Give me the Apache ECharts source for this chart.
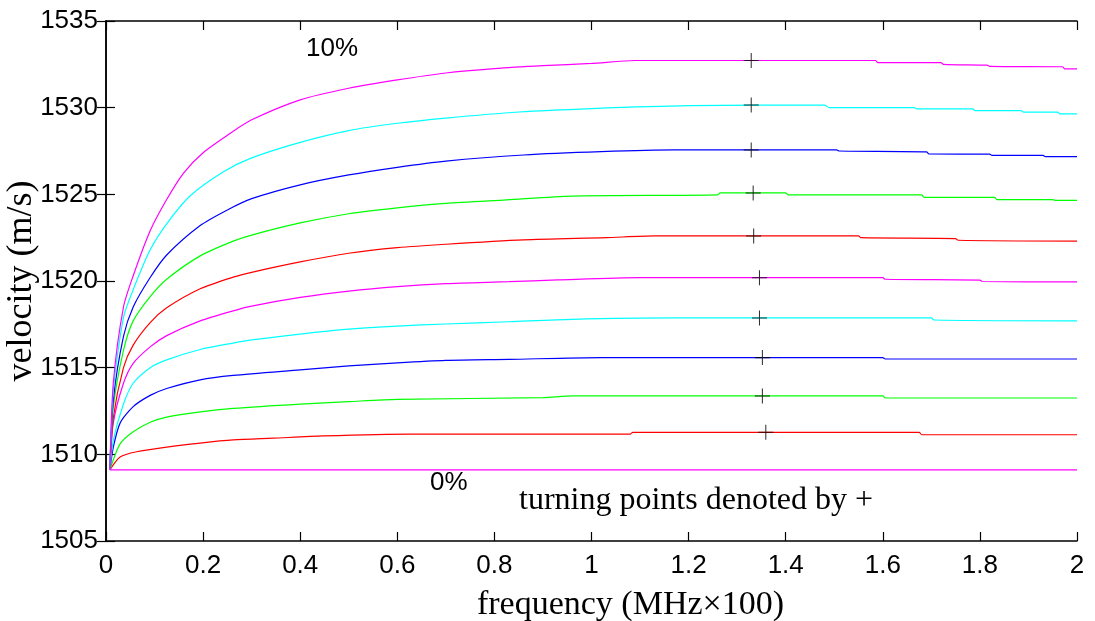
<!DOCTYPE html>
<html><head><meta charset="utf-8">
<script src="https://cdn.jsdelivr.net/npm/echarts@6/dist/echarts.min.js"></script>
<style>html,body{margin:0;padding:0;background:#fff}#c{width:1095px;height:621px}</style>
</head><body><div id="c"></div>
<script>
const xTicks = [0,0.2,0.4,0.6,0.8,1,1.2,1.4,1.6,1.8,2];
const yTicks = [1505,1510,1515,1520,1525,1530,1535];
const curve0 = [[0.008,1509.1],[2,1509.1]];
const curve1 = [[0.008,1509.1],[0.029,1509.85],[0.063,1510.15],[0.125,1510.42],[0.194,1510.65],[0.262,1510.83],[0.344,1510.93],[0.447,1511.06],[0.626,1511.17],[1.08,1511.17],[1.085,1511.27],[1.675,1511.27],[1.68,1511.13],[2,1511.13]];
const curve2 = [[0.008,1509.1],[0.029,1510.6],[0.056,1511.3],[0.091,1511.85],[0.125,1512.15],[0.194,1512.45],[0.262,1512.65],[0.4,1512.9],[0.5,1513.04],[0.6,1513.17],[0.9,1513.27],[0.96,1513.37],[1.6,1513.37],[1.605,1513.25],[2,1513.25]];
const curve3 = [[0.008,1509.1],[0.015,1510.4],[0.029,1511.8],[0.056,1512.75],[0.091,1513.4],[0.125,1513.8],[0.194,1514.3],[0.262,1514.55],[0.4,1514.87],[0.5,1515.1],[0.6,1515.28],[0.7,1515.42],[0.83,1515.48],[1.02,1515.58],[1.6,1515.58],[1.605,1515.5],[2,1515.5]];
const curve4 = [[0.008,1509.1],[0.015,1510.8],[0.036,1512.9],[0.056,1514.1],[0.091,1515.0],[0.125,1515.45],[0.194,1516.05],[0.262,1516.42],[0.3,1516.6],[0.4,1516.94],[0.5,1517.22],[0.6,1517.4],[0.7,1517.52],[0.83,1517.65],[0.96,1517.79],[1.17,1517.87],[1.7,1517.87],[1.705,1517.75],[2,1517.7]];
const curve5 = [[0.008,1509.1],[0.015,1511.8],[0.036,1514.1],[0.056,1515.25],[0.091,1516.2],[0.125,1516.85],[0.194,1517.7],[0.262,1518.28],[0.3,1518.55],[0.4,1519.05],[0.5,1519.42],[0.6,1519.68],[0.7,1519.85],[0.83,1519.96],[0.93,1520.06],[1.1,1520.19],[1.6,1520.19],[1.605,1520.1],[1.8,1520.05],[1.805,1519.97],[2,1519.95]];
const curve6 = [[0.008,1509.1],[0.015,1512.1],[0.036,1515.0],[0.056,1516.3],[0.091,1517.6],[0.125,1518.45],[0.194,1519.55],[0.262,1520.22],[0.3,1520.5],[0.4,1521.1],[0.5,1521.6],[0.6,1521.92],[0.7,1522.12],[0.86,1522.37],[1.03,1522.5],[1.13,1522.6],[1.55,1522.6],[1.555,1522.5],[1.75,1522.45],[1.755,1522.35],[2,1522.3]];
const curve7 = [[0.008,1509.1],[0.015,1512.7],[0.036,1516.0],[0.056,1517.7],[0.091,1519.1],[0.125,1520.1],[0.194,1521.45],[0.262,1522.3],[0.3,1522.65],[0.4,1523.35],[0.5,1523.88],[0.6,1524.22],[0.7,1524.48],[0.825,1524.68],[0.96,1524.9],[1.26,1524.97],[1.265,1525.08],[1.4,1525.08],[1.405,1524.97],[1.68,1524.97],[1.685,1524.83],[1.83,1524.83],[1.835,1524.7],[1.95,1524.7],[1.955,1524.65],[2,1524.65]];
const curve8 = [[0.008,1509.1],[0.015,1513.1],[0.036,1516.8],[0.056,1518.5],[0.091,1520.2],[0.125,1521.5],[0.194,1523.2],[0.25,1524.1],[0.3,1524.75],[0.4,1525.55],[0.5,1526.12],[0.6,1526.56],[0.7,1526.92],[0.86,1527.27],[1.02,1527.46],[1.17,1527.56],[1.505,1527.56],[1.51,1527.5],[1.69,1527.45],[1.695,1527.33],[1.82,1527.32],[1.825,1527.25],[1.93,1527.25],[1.935,1527.17],[2,1527.17]];
const curve9 = [[0.008,1509.1],[0.015,1513.7],[0.036,1517.9],[0.056,1519.5],[0.091,1521.8],[0.125,1523.3],[0.173,1524.9],[0.242,1526.3],[0.3,1527.1],[0.4,1528.0],[0.5,1528.68],[0.6,1529.1],[0.7,1529.4],[0.85,1529.75],[1.0,1529.95],[1.2,1530.12],[1.48,1530.15],[1.49,1530.0],[1.665,1530.0],[1.67,1529.93],[1.785,1529.93],[1.79,1529.83],[1.885,1529.83],[1.89,1529.74],[1.96,1529.74],[1.965,1529.64],[2,1529.64]];
const curve10 = [[0.008,1509.1],[0.015,1514.1],[0.036,1518.5],[0.056,1520.3],[0.091,1522.9],[0.125,1524.7],[0.159,1526.2],[0.2,1527.4],[0.26,1528.6],[0.3,1529.3],[0.4,1530.45],[0.5,1531.12],[0.6,1531.6],[0.7,1532.0],[0.8,1532.25],[0.9,1532.42],[1.0,1532.55],[1.09,1532.72],[1.585,1532.72],[1.59,1532.6],[1.72,1532.6],[1.725,1532.5],[1.815,1532.45],[1.82,1532.38],[1.97,1532.36],[1.975,1532.24],[2,1532.24]];
const turnX = [1.359,1.352,1.352,1.346,1.346,1.334,1.333,1.329,1.329,1.329];
const turnY = [1511.27,1513.37,1515.58,1517.87,1520.19,1522.6,1525.08,1527.56,1530.15,1532.72];
const curveColors = ['#ff00ff','#ff0000','#00ff00','#0000ff','#00ffff','#ff00ff','#ff0000','#00ff00','#0000ff','#00ffff','#ff00ff'];

const curves = [curve0,curve1,curve2,curve3,curve4,curve5,curve6,curve7,curve8,curve9,curve10];
const plusPath = 'path://M-0.07,-1 L0.07,-1 L0.07,-0.07 L1,-0.07 L1,0.07 L0.07,0.07 L0.07,1 L-0.07,1 L-0.07,0.07 L-1,0.07 L-1,-0.07 L-0.07,-0.07 Z';
const sans = 'Liberation Sans, Arial, sans-serif';
const serif = 'Liberation Serif, Times New Roman, serif';

const series = curves.map((c,i)=>({
  type:'line', data:c, showSymbol:false, symbol:'none', animation:false, smooth:0.25,
  lineStyle:{color:curveColors[i], width:1.2}, z:2
}));
series.push({
  type:'scatter', data: turnX.map((x,i)=>[x,turnY[i]]), symbol:plusPath, symbolSize:15,
  itemStyle:{color:'#000'}, animation:false, z:5
});

const axisCommon = {
  axisLine:{show:true, lineStyle:{color:'#000', width:1.5}},
  axisTick:{show:true, inside:true, length:9, lineStyle:{color:'#000', width:1.2}},
  splitLine:{show:false}
};
const chart = echarts.init(document.getElementById('c'), null, {renderer:'canvas'});
chart.setOption({
  backgroundColor:'#fff',
  animation:false,
  grid:{left:106, right:18, top:21, bottom:80, containLabel:false, outerBoundsMode:'none'},
  xAxis:[
    Object.assign({type:'value', min:0, max:2, interval:0.2, position:'bottom',
      axisLabel:{color:'#000', fontFamily:sans, fontSize:26, margin:12,
        formatter:v=>String(+v.toFixed(1))},
      name:'frequency (MHz×100)', nameLocation:'middle', nameGap:47, nameMoveOverlap:false,
      nameTextStyle:{color:'#000', fontFamily:serif, fontSize:34, padding:[0,0,0,78], verticalAlign:'top'}}, axisCommon),
    Object.assign({type:'value', min:0, max:2, interval:0.2, position:'top', axisLabel:{show:false}}, axisCommon)
  ],
  yAxis:[
    Object.assign({type:'value', min:1505, max:1535, interval:5, position:'left',
      axisLabel:{color:'#000', fontFamily:sans, fontSize:26, margin:8, formatter:v=>String(v)},
      name:'velocity (m/s)', nameLocation:'middle', nameGap:66, nameRotate:90, nameMoveOverlap:false,
      nameTextStyle:{color:'#000', fontFamily:serif, fontSize:36, verticalAlign:'bottom'}}, axisCommon),
    Object.assign({type:'value', min:1505, max:1535, interval:5, position:'right', axisLabel:{show:false}}, axisCommon)
  ],
  series: series,
  graphic:[
    {type:'text', left:306, top:36, style:{text:'10%', font:'26px '+sans, fill:'#000'}},
    {type:'text', left:430, top:470, style:{text:'0%', font:'26px '+sans, fill:'#000'}},
    {type:'text', left:519, top:485, style:{text:'turning points denoted by +', font:'32px '+serif, fill:'#000'}}
  ]
});
</script></body></html>
